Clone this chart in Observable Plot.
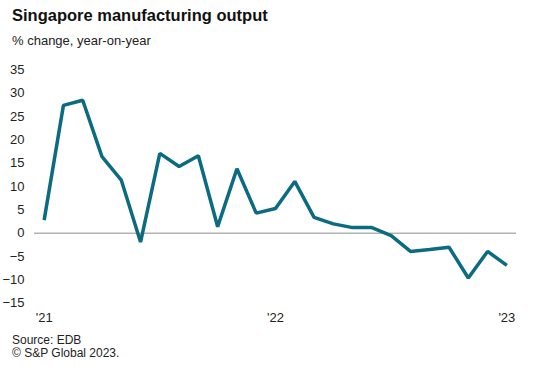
<!DOCTYPE html>
<html>
<head>
<meta charset="utf-8">
<script src="https://cdn.jsdelivr.net/npm/d3@7"></script>
<script src="https://cdn.jsdelivr.net/npm/@observablehq/plot@0.6"></script>
<style>
  body { margin: 0; background: #fff; font-family: "Liberation Sans", Arial, sans-serif; }
  #wrap { position: relative; width: 544px; height: 380px; overflow: hidden; }
  #title { position: absolute; left: 12px; top: 6px; font-size: 16.5px; font-weight: bold; color: #111; white-space: nowrap; }
  #subtitle { position: absolute; left: 12px; top: 33px; font-size: 13px; color: #222; white-space: nowrap; }
  #chart { position: absolute; left: 0; top: 55px; }
  #caption { position: absolute; left: 12px; top: 334px; font-size: 12px; line-height: 13px; color: #222; }
</style>
</head>
<body>
<div id="wrap">
  <div id="title">Singapore manufacturing output</div>
  <div id="subtitle">% change, year-on-year</div>
  <div id="chart"></div>
  <div id="caption">Source: EDB<br>© S&amp;P Global 2023.</div>
</div>
<script>
const months = ["2021-01","2021-02","2021-03","2021-04","2021-05","2021-06","2021-07","2021-08","2021-09","2021-10","2021-11","2021-12",
                "2022-01","2022-02","2022-03","2022-04","2022-05","2022-06","2022-07","2022-08","2022-09","2022-10","2022-11","2022-12","2023-01"];
const values = [2.8, 27.4, 28.5, 16.4, 11.4, -1.9, 17.1, 14.3, 16.6, 1.4, 13.8, 4.3,
                5.3, 11.1, 3.4, 2.0, 1.2, 1.2, -0.5, -3.9, -3.5, -3.0, -9.6, -3.9, -6.9];
const xTicks = [0, 12, 24];
const xTickLabels = ["'21", "'22", "'23"];
const yTicks = [-15, -10, -5, 0, 5, 10, 15, 20, 25, 30, 35];

const data = months.map((m, i) => ({i, month: m, value: values[i]}));
const labelOf = new Map(xTicks.map((t, k) => [t, xTickLabels[k]]));

const chart = Plot.plot({
  width: 544,
  height: 275,
  marginLeft: 34,
  marginRight: 28,
  marginTop: 14.4,
  marginBottom: 27.3,
  style: {fontFamily: "'Liberation Sans', Arial, sans-serif", fontSize: "13px", color: "#222", background: "transparent"},
  x: {domain: [-0.5, 24.5], ticks: xTicks, tickFormat: d => labelOf.get(d), tickSize: 0, tickPadding: 10, label: null},
  y: {domain: [-15, 35], ticks: yTicks, tickSize: 0, tickPadding: 10, label: null},
  marks: [
    Plot.ruleY([0], {x1: -0.5, x2: 24.5, stroke: "#b3b3b3", strokeWidth: 1.6}),
    Plot.line(data, {x: "i", y: "value", stroke: "#0b6b80", strokeWidth: 3.5, strokeLinejoin: "miter", strokeLinecap: "butt"})
  ]
});
document.getElementById("chart").appendChild(chart);
</script>
</body>
</html>
